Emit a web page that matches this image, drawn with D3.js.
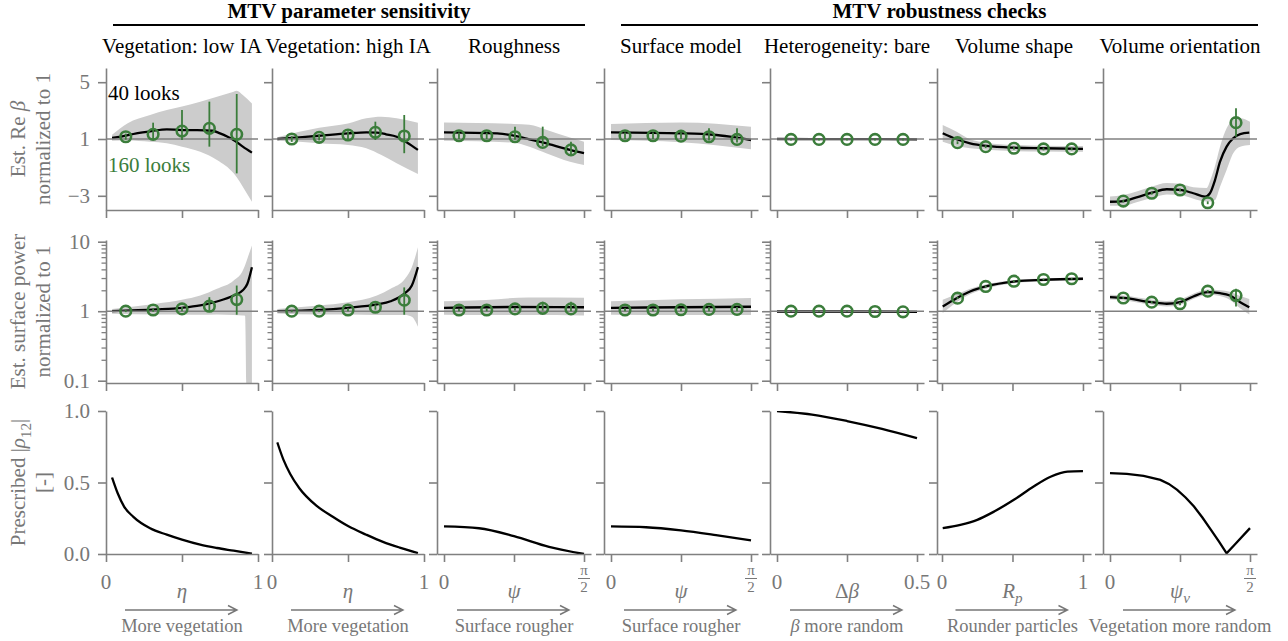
<!DOCTYPE html>
<html><head><meta charset="utf-8">
<script src="https://cdn.jsdelivr.net/npm/d3@7"></script>
<style>body{margin:0;background:#fff}svg{display:block}
svg text{font-family:"Liberation Serif","Times New Roman",serif !important}</style>
</head><body>
<svg id="c" width="1288" height="641"></svg>
<script>
// ---------------- DATA ----------------
const groupTitles = ["MTV parameter sensitivity", "MTV robustness checks"];
const panelTitles = ["Vegetation: low IA", "Vegetation: high IA", "Roughness", "Surface model",
  "Heterogeneity: bare", "Volume shape", "Volume orientation"];
const xTickVals = [[0,0.5,1],[0,0.5,1],[0,0.5,1],[0,0.5,1],[0,0.25,0.5],[0,0.5,1],[0,0.5,1]];
const xTickLabels = [["0","","1"],["0","","1"],["0","","π/2"],["0","","π/2"],["0","","0.5"],["0","","1"],["0","","π/2"]];
const xVarLabels = ["η","η","ψ","ψ","Δβ","Rp","ψv"];
const xDescriptions = ["More vegetation","More vegetation","Surface rougher","Surface rougher",
  "β more random","Rounder particles","Vegetation more random"];
const legendLabels = ["40 looks","160 looks"];
const yTicksRe = [-3,1,5], yTickLabelsRe = ["−3","1","5"];
const yTicksPow = [0.1,1,10], yTickLabelsPow = ["0.1","1","10"];
const yMinorPow = [0.2,0.3,0.4,0.5,0.6,0.7,0.8,0.9,2,3,4,5,6,7,8,9];
const yTicksRho = [0,0.5,1], yTickLabelsRho = ["0.0","0.5","1.0"];

// Row 1: estimated Re beta (40 looks: line + band, 160 looks: points)
const reLineX = [
 [0.04,0.1,0.2,0.3,0.4,0.5,0.6,0.7,0.75,0.8,0.85,0.9,0.96],
 [0.035,0.18,0.31,0.5,0.62,0.69,0.75,0.82,0.89,0.96],
 [0,0.38,0.5,0.61,0.71,0.9,1.0],
 [0,0.5,0.73,0.85,1.0],
 [0,0.25,0.5],
 [0.005,0.104,0.199,0.317,0.506,0.719,1.0],
 [0,0.095,0.19,0.3,0.405,0.5,0.595,0.679,0.714,0.75,0.786,0.833,0.88,0.93,0.995]];
const reLineY = [
 [1.07,1.16,1.4,1.56,1.68,1.63,1.63,1.58,1.4,1.16,0.86,0.46,0.04],
 [1.0,1.12,1.23,1.4,1.47,1.45,1.33,1.16,0.74,0.23],
 [1.47,1.4,1.23,0.98,0.74,0.23,0.0],
 [1.47,1.4,1.3,1.16,0.93],
 [1.0,0.99,0.98],
 [1.4,0.98,0.7,0.51,0.39,0.35,0.3],
 [-3.42,-3.37,-3.11,-2.78,-2.54,-2.59,-2.82,-3.06,-2.82,-1.89,-0.6,0.46,1.05,1.35,1.45]];
const reBandX = [
 [0.04,0.14,0.29,0.4,0.5,0.62,0.73,0.84,0.86,0.9,0.96],
 [0.035,0.18,0.31,0.5,0.62,0.72,0.82,0.96],
 [0,0.5,0.61,0.73,0.9,1.0],
 [0,0.5,1.0],
 [0,0.25,0.5],
 [0.005,0.104,0.199,0.317,0.506,0.719,1.0],
 [0,0.095,0.19,0.3,0.405,0.5,0.595,0.69,0.72,0.75,0.786,0.833,0.88,0.93,1.0]];
const reBandHi = [
 [1.3,2.1,2.69,3.04,3.28,3.63,3.98,4.33,4.4,4.1,3.5],
 [1.12,1.51,1.8,2.1,2.46,2.57,2.46,2.15],
 [2.17,2.06,2.0,1.65,1.1,0.81],
 [2.06,2.17,1.87],
 [1.05,1.05,1.04],
 [1.99,1.51,0.98,0.74,0.58,0.52,0.5],
 [-3.05,-2.95,-2.7,-2.35,-2.1,-2.15,-2.4,-2.45,-1.8,-0.9,0.46,1.75,2.34,2.46,2.22]];
const reBandLo = [
 [0.88,0.9,0.81,0.7,0.46,0.1,-0.48,-1.42,-1.7,-2.36,-3.42],
 [0.88,0.81,0.7,0.58,0.35,-0.13,-0.71,-1.46],
 [0.88,0.74,0.46,0.0,-0.6,-0.83],
 [0.93,0.77,0.28],
 [0.95,0.94,0.93],
 [0.81,0.51,0.35,0.25,0.15,0.12,0.1],
 [-3.7,-3.7,-3.45,-3.15,-2.9,-2.95,-3.2,-3.4,-3.4,-3.3,-2.36,-1.18,0.0,0.46,0.58]];
const ptsX = [
 [0.13,0.31,0.5,0.68,0.86],
 [0.13,0.31,0.5,0.68,0.87],
 [0.107,0.305,0.507,0.705,0.907],
 [0.1,0.3,0.5,0.7,0.9],
 [0.05,0.15,0.25,0.35,0.45],
 [0.11,0.31,0.51,0.72,0.92],
 [0.095,0.298,0.5,0.698,0.9]];
const rePtsY = [
 [1.16,1.33,1.56,1.75,1.33],
 [1.0,1.12,1.28,1.47,1.21],
 [1.23,1.23,1.16,0.76,0.23],
 [1.23,1.23,1.2,1.16,0.97],
 [0.97,0.97,0.97,0.97,0.97],
 [0.74,0.46,0.35,0.3,0.3],
 [-3.37,-2.82,-2.59,-3.49,2.15]];
const reErrLo = [
 [0.95,0.93,0.93,0.46,-1.42],
 [0.8,0.9,1.0,0.93,0.0],
 [1.0,1.0,0.95,0.5,-0.05],
 [1.0,1.0,1.0,0.9,0.75],
 [0.9,0.9,0.9,0.9,0.9],
 [0.64,0.36,0.25,0.2,0.2],
 [-3.47,-2.92,-2.69,-3.59,1.16]];
const reErrHi = [
 [1.38,2.15,3.04,3.63,4.17],
 [1.2,1.35,1.55,2.22,2.69],
 [1.45,1.45,1.87,1.87,0.81],
 [1.45,1.45,1.45,1.75,1.75],
 [1.05,1.05,1.05,1.05,1.05],
 [0.84,0.56,0.45,0.4,0.4],
 [-3.27,-2.72,-2.49,-3.39,3.16]];

// Row 2: estimated surface power
const pwLineX = [
 [0.04,0.33,0.5,0.62,0.73,0.84,0.9,0.93,0.96],
 [0.035,0.31,0.5,0.69,0.78,0.875,0.92,0.96],
 [0,0.5,1.0],
 [0,0.5,1.0],
 [0,0.25,0.5],
 [0.005,0.104,0.199,0.317,0.506,0.719,1.0],
 [0,0.095,0.298,0.405,0.5,0.595,0.698,0.786,0.857,0.93,0.995]];
const pwLineY = [
 [1.0,1.06,1.12,1.21,1.38,1.68,2.0,2.48,4.3],
 [1.0,1.04,1.12,1.25,1.39,1.82,2.34,4.3],
 [1.12,1.15,1.14],
 [1.12,1.14,1.16],
 [0.99,0.99,0.98],
 [1.17,1.54,1.92,2.29,2.67,2.83,2.93],
 [1.59,1.55,1.35,1.28,1.35,1.63,1.88,1.82,1.68,1.35,1.14]];
const pwBandX = [
 [0.04,0.33,0.5,0.62,0.73,0.84,0.9,0.915,0.93,0.96],
 [0.035,0.31,0.5,0.69,0.78,0.875,0.92,0.96],
 [0,0.3,0.6,1.0],
 [0,0.5,1.0],
 [0,0.25,0.5],
 [0.005,0.104,0.199,0.317,0.506,0.719,1.0],
 [0,0.095,0.298,0.405,0.5,0.595,0.698,0.786,0.857,0.93,0.995]];
const pwBandHi = [
 [1.08,1.28,1.46,1.68,2.1,2.76,3.85,4.6,5.7,8.8],
 [1.08,1.21,1.35,1.68,2.1,2.93,4.3,8.3],
 [1.39,1.45,1.58,1.56],
 [1.39,1.48,1.55],
 [1.03,1.03,1.02],
 [1.46,1.75,2.1,2.45,2.8,2.95,3.05],
 [1.72,1.68,1.47,1.4,1.48,1.78,2.05,2.0,1.9,1.65,1.5]];
const pwBandLo = [
 [0.92,0.9,0.9,0.89,0.9,0.88,0.87,0.86,0.01,0.01],
 [0.93,0.9,0.9,0.88,0.88,0.88,0.83,0.6],
 [0.89,0.88,0.88,0.87],
 [0.89,0.88,0.88],
 [0.95,0.95,0.94],
 [0.94,1.35,1.75,2.12,2.52,2.7,2.8],
 [1.47,1.43,1.24,1.17,1.23,1.5,1.73,1.65,1.45,1.1,0.9]];
const pwPtsY = [
 [1.0,1.04,1.08,1.18,1.47],
 [1.0,1.0,1.04,1.14,1.44],
 [1.04,1.04,1.08,1.1,1.08],
 [1.04,1.04,1.05,1.06,1.06],
 [1.0,1.0,1.0,0.99,0.98],
 [1.54,2.27,2.7,2.86,2.93],
 [1.55,1.35,1.28,1.94,1.68]];
const pwErrLo = [
 [0.97,0.98,1.0,1.02,0.89],
 [0.97,0.97,1.0,1.05,0.89],
 [1.0,1.0,1.02,1.02,1.0],
 [1.0,1.0,1.0,1.0,1.0],
 [0.98,0.98,0.98,0.97,0.96],
 [1.5,2.2,2.62,2.78,2.85],
 [1.5,1.3,1.22,1.85,1.17]];
const pwErrHi = [
 [1.04,1.1,1.15,1.59,2.34],
 [1.03,1.04,1.1,1.25,2.2],
 [1.08,1.1,1.12,1.37,1.37],
 [1.1,1.1,1.1,1.15,1.15],
 [1.02,1.02,1.02,1.01,1.0],
 [1.6,2.34,2.78,2.94,3.01],
 [1.6,1.4,1.34,2.02,2.1]];

// Row 3: prescribed |rho12|
const rhoX = [
 [0.04,0.077,0.12,0.18,0.29,0.4,0.5,0.62,0.73,0.84,0.96],
 [0.035,0.075,0.12,0.18,0.29,0.4,0.5,0.62,0.73,0.84,0.96],
 [0,0.25,0.5,0.75,1.0],
 [0,0.25,0.5,0.75,1.0],
 [0,0.125,0.25,0.375,0.5],
 [0.005,0.13,0.25,0.37,0.51,0.65,0.77,0.89,1.0],
 [0,0.12,0.24,0.36,0.42,0.48,0.54,0.6,0.66,0.72,0.78,0.833,0.9,1.0]];
const rhoY = [
 [0.535,0.425,0.33,0.26,0.18,0.135,0.1,0.065,0.042,0.023,0.002],
 [0.78,0.66,0.56,0.46,0.34,0.26,0.195,0.135,0.085,0.045,0.007],
 [0.193,0.18,0.125,0.05,0.0],
 [0.193,0.187,0.165,0.132,0.095],
 [1.0,0.975,0.93,0.875,0.81],
 [0.181,0.204,0.239,0.297,0.379,0.472,0.54,0.576,0.579],
 [0.565,0.56,0.546,0.518,0.49,0.449,0.395,0.332,0.255,0.17,0.085,0.005,0.075,0.181]];

// ---------------- LAYOUT ----------------
const FONT = '"Liberation Serif","Times New Roman",serif';
const GRAY = "#808080", TXT = "#777777", GREEN = "#3b7d3b", BAND = "#cccccc";
const panelLeft = [106, 272, 437, 604, 770, 937, 1103];
const panelW = [152, 152, 154, 154, 154, 154, 154];
const xDomains = [[0,1],[0,1],[-0.05,1.05],[-0.05,1.05],[-0.025,0.525],[-0.0355,1.057],[-0.05,1.05]];
const rows = [
  {top:68, bottom:210, log:false, domain:[-4,6]},
  {top:240, bottom:383, log:true, domain:[0.0927,10.58]},
  {top:411, bottom:554, log:false, domain:[0,1]}
];

const svg = d3.select("#c").attr("font-family", FONT);

function mathText(sel, parts, size) {
  parts.forEach(p => {
    const t = sel.append("tspan").text(p.t);
    if (p.i) t.attr("font-style", "italic");
    if (p.sub) t.attr("font-size", size*0.72).attr("dy", size*0.25);
    if (p.unsub) t.attr("dy", -size*0.25);
  });
}

// group titles
const groupSpans = [[113,585],[621,1258]];
groupTitles.forEach((g,i) => {
  const [a,b] = groupSpans[i];
  svg.append("text").attr("x",(a+b)/2).attr("y",18).attr("text-anchor","middle")
    .attr("font-size",21).attr("font-weight","bold").attr("fill","#000").text(g);
  svg.append("line").attr("x1",a).attr("x2",b).attr("y1",25).attr("y2",25)
    .attr("stroke","#000").attr("stroke-width",1.8);
});

const defs = svg.append("defs");

for (let p = 0; p < 7; p++) {
  const L = panelLeft[p], Wd = panelW[p];
  const x = d3.scaleLinear().domain(xDomains[p]).range([L, L+Wd]);
  svg.append("text").attr("x", L+Wd/2).attr("y", 53).attr("text-anchor","middle")
    .attr("font-size",21).attr("fill","#000").text(panelTitles[p]);

  rows.forEach((r, ri) => {
    const y = (r.log ? d3.scaleLog() : d3.scaleLinear()).domain(r.domain).range([r.bottom, r.top]);
    const cid = `clip${p}_${ri}`;
    defs.append("clipPath").attr("id", cid).append("rect")
      .attr("x", L).attr("y", r.top).attr("width", Wd).attr("height", r.bottom - r.top);
    const g = svg.append("g");
    const gc = g.append("g").attr("clip-path", `url(#${cid})`);

    if (ri < 2) {
      const bx = ri===0 ? reBandX[p] : pwBandX[p];
      const blo = ri===0 ? reBandLo[p] : pwBandLo[p];
      const bhi = ri===0 ? reBandHi[p] : pwBandHi[p];
      const area = d3.area().x((d,i)=>x(bx[i])).y0((d,i)=>y(blo[i])).y1((d,i)=>y(bhi[i]))
        .curve(d3.curveMonotoneX);
      gc.append("path").attr("d", area(bx)).attr("fill", BAND);
      g.append("line").attr("x1", L).attr("x2", L+Wd).attr("y1", y(1)).attr("y2", y(1))
        .attr("stroke", GRAY).attr("stroke-width", 1.5);
      const lx = ri===0 ? reLineX[p] : pwLineX[p];
      const ly = ri===0 ? reLineY[p] : pwLineY[p];
      const line = d3.line().x((d,i)=>x(lx[i])).y((d,i)=>y(ly[i])).curve(d3.curveMonotoneX);
      gc.append("path").attr("d", line(lx)).attr("fill","none").attr("stroke","#000").attr("stroke-width",2.3);
      const py = ri===0 ? rePtsY[p] : pwPtsY[p];
      const elo = ri===0 ? reErrLo[p] : pwErrLo[p];
      const ehi = ri===0 ? reErrHi[p] : pwErrHi[p];
      ptsX[p].forEach((xv, i) => {
        g.append("line").attr("x1", x(xv)).attr("x2", x(xv)).attr("y1", y(elo[i])).attr("y2", y(ehi[i]))
          .attr("stroke", GREEN).attr("stroke-width", 1.8);
        g.append("circle").attr("cx", x(xv)).attr("cy", y(py[i])).attr("r", 5.3)
          .attr("fill","none").attr("stroke", GREEN).attr("stroke-width", 2.6);
      });
    } else {
      const line = d3.line().x((d,i)=>x(rhoX[p][i])).y((d,i)=>y(rhoY[p][i]))
        .curve(p===6 ? d3.curveLinear : d3.curveMonotoneX);
      gc.append("path").attr("d", line(rhoX[p])).attr("fill","none").attr("stroke","#000").attr("stroke-width",2.3);
    }

    const yt = ri===0 ? yTicksRe : ri===1 ? yTicksPow : yTicksRho;
    const ytl = ri===0 ? yTickLabelsRe : ri===1 ? yTickLabelsPow : yTickLabelsRho;
    const yAxis = d3.axisLeft(y).tickValues(yt).tickSize(8).tickSizeOuter(0).tickPadding(8)
      .tickFormat((d,i) => p===0 ? ytl[i] : "");
    const ga = g.append("g").attr("transform", `translate(${L},0)`).call(yAxis);
    if (ri===1) {
      g.append("g").attr("transform", `translate(${L},0)`)
        .call(d3.axisLeft(y).tickValues(yMinorPow).tickSize(4.5).tickFormat(""))
        .call(s => s.select(".domain").remove())
        .selectAll(".tick line").attr("stroke", GRAY).attr("stroke-width", 1.3);
    }
    const xa = g.append("g").attr("transform", `translate(0,${r.bottom})`)
      .call(d3.axisBottom(x).tickValues(xTickVals[p]).tickSize(8).tickSizeOuter(0).tickFormat(""));
    [ga, xa].forEach(a => {
      a.attr("font-family", FONT);
      a.select(".domain").attr("stroke", GRAY).attr("stroke-width", 1.6);
      a.selectAll(".tick line").attr("stroke", GRAY).attr("stroke-width", 1.6);
      a.selectAll("text").attr("font-size", 21).attr("fill", TXT);
    });

    if (ri === 2) {
      xTickVals[p].forEach((tv, k) => {
        const lab = xTickLabels[p][k];
        if (!lab) return;
        if (lab === "π/2") {
          const cx = x(tv);
          svg.append("text").attr("x", cx).attr("y", 575).attr("text-anchor","middle")
            .attr("font-size",15).attr("fill",TXT).text("π");
          svg.append("line").attr("x1",cx-6).attr("x2",cx+6).attr("y1",578.5).attr("y2",578.5)
            .attr("stroke",TXT).attr("stroke-width",1);
          svg.append("text").attr("x", cx).attr("y", 592).attr("text-anchor","middle")
            .attr("font-size",15).attr("fill",TXT).text("2");
        } else {
          svg.append("text").attr("x", x(tv)).attr("y", 589).attr("text-anchor","middle")
            .attr("font-size",21).attr("fill",TXT).text(lab);
        }
      });
      const cx = (x(xTickVals[p][0]) + x(xTickVals[p][2]))/2;
      const vt = svg.append("text").attr("x", cx).attr("y", 598).attr("text-anchor","middle")
        .attr("font-size",21).attr("fill",TXT);
      const v = xVarLabels[p];
      if (v === "Δβ") mathText(vt, [{t:"Δ"},{t:"β",i:true}], 21);
      else if (v === "Rp") mathText(vt, [{t:"R",i:true},{t:"p",i:true,sub:true}], 21);
      else if (v === "ψv") mathText(vt, [{t:"ψ",i:true},{t:"v",i:true,sub:true}], 21);
      else mathText(vt, [{t:v,i:true}], 21);
      const ax0 = cx - 57, ax1 = cx + 55, ay = 610;
      svg.append("path").attr("d", `M${ax0},${ay}H${ax1}M${ax1-9},${ay-4.5}L${ax1},${ay}L${ax1-9},${ay+4.5}`)
        .attr("fill","none").attr("stroke",TXT).attr("stroke-width",1.4);
      const dt = svg.append("text").attr("x", cx).attr("y", 632).attr("text-anchor","middle")
        .attr("font-size",18.5).attr("fill",TXT);
      if (p === 4) mathText(dt, [{t:"β",i:true},{t:" more random"}], 18.5);
      else dt.text(xDescriptions[p]);
    }
  });
}

svg.append("text").attr("x",108).attr("y",100).attr("font-size",21).attr("fill","#000").text(legendLabels[0]);
svg.append("text").attr("x",108).attr("y",172).attr("font-size",21).attr("fill",GREEN).text(legendLabels[1]);

function yLabel(cy, line1, line2) {
  const t1 = svg.append("text").attr("transform", `translate(18,${cy}) rotate(-90)`)
    .attr("text-anchor","middle").attr("dy","0.35em").attr("font-size",21).attr("fill",TXT);
  mathText(t1, line1, 21);
  const t2 = svg.append("text").attr("transform", `translate(43,${cy}) rotate(-90)`)
    .attr("text-anchor","middle").attr("dy","0.35em").attr("font-size",21).attr("fill",TXT);
  mathText(t2, line2, 21);
}
yLabel((rows[0].top+rows[0].bottom)/2, [{t:"Est. Re "},{t:"β",i:true}], [{t:"normalized to 1"}]);
yLabel((rows[1].top+rows[1].bottom)/2, [{t:"Est. surface power"}], [{t:"normalized to 1"}]);
yLabel((rows[2].top+rows[2].bottom)/2, [{t:"Prescribed |"},{t:"ρ",i:true},{t:"12",sub:true},{t:"|",unsub:true}], [{t:"[-]"}]);
</script></body></html>
